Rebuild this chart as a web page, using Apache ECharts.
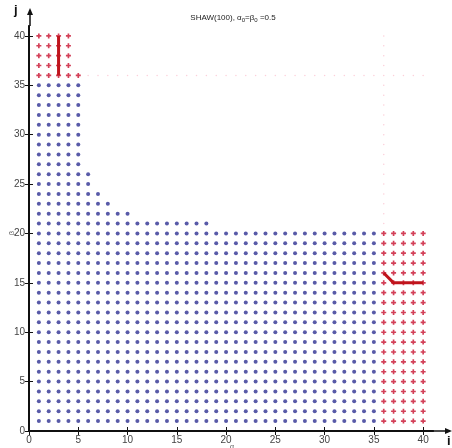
<!DOCTYPE html>
<html><head><meta charset="utf-8">
<script src="https://cdn.jsdelivr.net/npm/echarts@6/dist/echarts.min.js"></script>
<style>html,body{margin:0;padding:0;background:#fff}#c{width:452px;height:448px}</style>
</head><body><div id="c"></div>
<script>
// Blue region: for each row j, columns i = 1..blueRowMax
const blueRows   = [1,2,3,4,5,6,7,8,9,10,11,12,13,14,15,16,17,18,19,20,21,22,23,24,25,26,27,28,29,30,31,32,33,34,35];
const blueRowMax = [35,35,35,35,35,35,35,35,35,35,35,35,35,35,35,35,35,35,35,35,18,10,8,7,6,6,5,5,5,5,5,5,5,5,5];
// Red region (top-left): rows and column ranges
const redTLRows = [36,37,38,39,40];
const redTLMax  = [5,4,4,4,4];
// Red region (bottom-right): rows 1..20, columns 36..40
const redBRRows = [1,2,3,4,5,6,7,8,9,10,11,12,13,14,15,16,17,18,19,20];
const redBRMin = 36, redBRMaxI = 40;
// Red paths
const pathTL = [[3,36],[3,40]];
const pathBR = [[36,16],[37,15],[40,15]];
// Faint guide dots
const guideRowJ = 36, guideRowFrom = 6, guideRowTo = 40;
const guideColI = 36, guideColFrom = 21, guideColTo = 40;
const xTicks = [0,5,10,15,20,25,30,35,40];
const yTicks = [0,5,10,15,20,25,30,35,40];

const blue = [];
blueRows.forEach((j,k)=>{ for(let i=1;i<=blueRowMax[k];i++) blue.push([i,j]); });
const red = [];
redTLRows.forEach((j,k)=>{ for(let i=1;i<=redTLMax[k];i++) red.push([i,j]); });
redBRRows.forEach(j=>{ for(let i=redBRMin;i<=redBRMaxI;i++) red.push([i,j]); });
const guide = [];
for(let i=guideRowFrom;i<=guideRowTo;i++) guide.push([i,guideRowJ]);
for(let j=guideColFrom;j<=guideColTo;j++) if(j!==guideRowJ) guide.push([guideColI,j]);

const plus = 'path://M-1,-3 L1,-3 L1,-1 L3,-1 L3,1 L1,1 L1,3 L-1,3 L-1,1 L-3,1 L-3,-1 L-1,-1 Z';
const labelFont = {color:'#444', fontSize:10, fontFamily:'Liberation Sans, Arial, sans-serif'};

const chart = echarts.init(document.getElementById('c'), null, {renderer:'canvas'});
chart.setOption({
  animation:false,
  title:{
    text:'SHAW(100), α{s|0}=β{s|0} =0.5',
    left:228, top:8, textAlign:'center',
    textStyle:{fontSize:8, fontWeight:'normal', color:'#222', fontFamily:'Liberation Sans, Arial, sans-serif',
      rich:{s:{fontSize:6, verticalAlign:'bottom', padding:[4,0,0,0], color:'#222'}}}
  },
  grid:{left:29, right:19, top:26, bottom:17, containLabel:false, outerBoundsMode:'none'},
  xAxis:[{
    type:'value', min:0, max:41, position:'bottom',
    axisLine:{show:true, lineStyle:{color:'#111', width:2}},
    axisTick:{show:true, inside:true, length:4, customValues:xTicks, lineStyle:{color:'#111'}},
    axisLabel:Object.assign({customValues:xTicks, margin:4}, labelFont),
    splitLine:{show:false}
  },{
    type:'value', min:0, max:41, position:'top',
    axisLine:{show:true, lineStyle:{color:'#111', width:1.5}},
    axisTick:{show:true, inside:true, length:4, customValues:xTicks, lineStyle:{color:'#111'}},
    axisLabel:{show:false}, splitLine:{show:false}
  }],
  yAxis:[{
    type:'value', min:0, max:41, position:'left',
    axisLine:{show:true, lineStyle:{color:'#111', width:2}},
    axisTick:{show:true, inside:true, length:4, customValues:yTicks, lineStyle:{color:'#111'}},
    axisLabel:Object.assign({customValues:yTicks, margin:4}, labelFont),
    splitLine:{show:false}
  },{
    type:'value', min:0, max:41, position:'right',
    axisLine:{show:true, lineStyle:{color:'#111', width:1.5}},
    axisTick:{show:true, inside:true, length:4, customValues:yTicks, lineStyle:{color:'#111'}},
    axisLabel:{show:false}, splitLine:{show:false}
  }],
  series:[
    {type:'scatter', data:guide, symbol:'circle', symbolSize:1.5, itemStyle:{color:'#fbc3cf'}, z:1},
    {type:'scatter', data:blue, symbol:'circle', symbolSize:4, itemStyle:{color:'#2e3192'}, z:2},
    {type:'scatter', data:red, symbol:plus, symbolSize:5, itemStyle:{color:'#c8102e'}, z:3},
    {type:'line', data:pathTL, symbol:'none', lineStyle:{color:'#c0141c', width:3}, z:4},
    {type:'line', data:pathBR, symbol:'none', lineStyle:{color:'#c0141c', width:3}, z:4}
  ],
  graphic:[
    {type:'line', shape:{x1:30, y1:26, x2:30, y2:14}, style:{stroke:'#111', lineWidth:1.5}},
    {type:'polygon', shape:{points:[[30,8],[27,15],[33,15]]}, style:{fill:'#111'}},
    {type:'text', left:14, top:4, style:{text:'j', fill:'#111', font:'bold 13px Liberation Sans, Arial, sans-serif'}},
    {type:'line', shape:{x1:433, y1:431, x2:446, y2:431}, style:{stroke:'#111', lineWidth:1.5}},
    {type:'polygon', shape:{points:[[452,431],[445,428],[445,434]]}, style:{fill:'#111'}},
    {type:'text', left:447, top:435, style:{text:'i', fill:'#111', font:'bold 13px Liberation Sans, Arial, sans-serif'}},
    {type:'text', x:12, y:233, rotation:Math.PI/2, style:{text:'β', fill:'#555', align:'center', verticalAlign:'middle', font:'7px Liberation Sans, Arial, sans-serif'}},
    {type:'text', x:232, y:447, style:{text:'α', fill:'#555', align:'center', verticalAlign:'middle', font:'7px Liberation Sans, Arial, sans-serif'}}
  ]
});
</script></body></html>
